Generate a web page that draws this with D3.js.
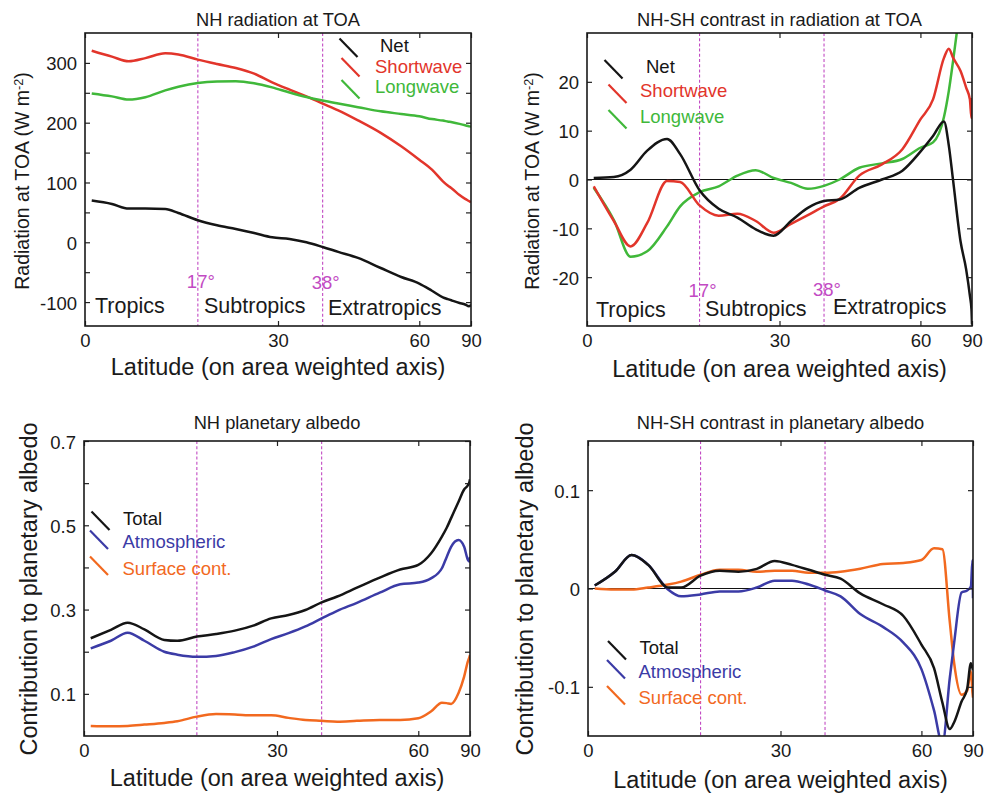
<!DOCTYPE html>
<html><head><meta charset="utf-8">
<script src="https://cdn.jsdelivr.net/npm/d3@7"></script>
<style>
body{margin:0;background:#fff}
svg{display:block}
text{font-family:"Liberation Sans",Arial,Helvetica,sans-serif}
</style>
</head><body><svg id="c" width="995" height="793"></svg>
<script>
// ---------- DATA ----------
const latA = [1,4,6.5,9,12,14,17,20,23,26,29,32,35,38,41,45,50,55,60,64,68,70,72,76,80,84,87,90];
const latB = [1,4,6.5,9,12,14,17,20,23,26,29,32,35,38,41,45,50,55,60,64,67,70,72,76,80,84,87,90];

// NH radiation at TOA (W m-2)
const nhNet = [69.7,64,56.3,56.3,55.5,49,36.8,28.4,22.3,15.6,8.4,5.6,0,-7.8,-16,-26,-43,-58,-69,-81,-92,-95,-97.5,-101.5,-104,-107,-106,-104];
const nhSW  = [320.5,310.5,302.7,308,316,314,305.5,298.2,291.5,282,267.6,255.3,244,232,220.7,204,183,160.5,138,121.5,102,95,89.7,79,72.5,69,67.5,67];
const nhLW  = [249,244,238.6,242.5,254,260,266.4,269,269.5,266,259,250.5,243,237,232,226,219,214.6,210.7,206,203.5,202,200.7,198,195.7,194,193.4,193];

// NH-SH contrast in radiation at TOA (W m-2)
const dNet = [0.3,0.5,2.0,5.9,8.3,5.2,-2.2,-6.0,-7.8,-10.2,-11.5,-8.5,-5.8,-4.4,-4.1,-1.7,0,1.8,5.7,8.9,11.9,7,-0.3,-12.7,-18.4,-23.8,-26.6,-29.7];
const dSW  = [-1.4,-8.5,-13.7,-8.9,-0.3,-0.5,-5.3,-7.4,-7.0,-8.5,-10.9,-9.1,-7.3,-5.5,-4.0,0.8,3.1,6.2,12.3,16.4,24.9,26.8,24.9,22.2,18.8,16.4,12.6,16.7];
const dLW  = [-1.7,-8.3,-15.8,-14.7,-9.6,-5.5,-2.6,-1.4,0.8,1.9,0.3,-0.7,-1.9,-1.3,0,2.4,3.3,4.2,6.5,7.6,12.8,18.1,24.4,36,null,null,null,null];

// NH planetary albedo
const nhTotal = [0.232,0.252,0.269,0.253,0.228,0.226,0.236,0.242,0.250,0.262,0.279,0.287,0.299,0.317,0.331,0.352,0.376,0.395,0.406,0.433,0.473,0.494,0.517,0.556,0.585,0.595,0.603,0.609];
const nhAtm   = [0.208,0.226,0.245,0.226,0.200,0.193,0.188,0.190,0.199,0.212,0.230,0.244,0.260,0.279,0.297,0.316,0.340,0.360,0.364,0.374,0.398,0.425,0.449,0.465,0.449,0.418,0.414,0.425];
const nhSurf  = [0.024,0.023,0.024,0.027,0.031,0.035,0.046,0.052,0.051,0.049,0.049,0.043,0.038,0.036,0.034,0.036,0.038,0.038,0.042,0.058,0.079,0.078,0.076,0.102,0.141,0.177,0.188,0.192];

// NH-SH contrast in planetary albedo
const dTotal = [0.003,0.017,0.034,0.024,0.001,0.001,0.013,0.018,0.017,0.020,0.028,0.024,0.019,0.014,0.010,-0.005,-0.016,-0.028,-0.057,-0.081,-0.116,-0.143,-0.136,-0.115,-0.102,-0.076,-0.081,-0.083];
const dAtm   = [0.003,0.017,0.034,0.024,-0.001,-0.008,-0.006,-0.003,-0.003,0.001,0.008,0.008,0.004,-0.002,-0.008,-0.026,-0.039,-0.055,-0.082,-0.124,-0.158,-0.091,-0.055,-0.004,-0.002,0.002,0.029,-0.010];
const dSurf  = [0.000,-0.001,-0.001,0.001,0.004,0.007,0.014,0.019,0.019,0.017,0.018,0.018,0.016,0.016,0.017,0.020,0.025,0.026,0.029,0.041,0.040,-0.034,-0.076,-0.108,-0.104,-0.084,-0.106,-0.111];

const xTickLats = [0,30,60,90];
const xTickLabels = ["0","30","60","90"];
const boundaryLats = [17,38];
const boundaryLabels = ["17\u00b0","38\u00b0"];
const regionNames = ["Tropics","Subtropics","Extratropics"];

const yTicks1 = [-100,-50,0,50,100,150,200,250,300];
const yLabels1 = ["-100","","0","","100","","200","","300"];
const yTicks2 = [-20,-10,0,10,20];
const yLabels2 = ["-20","-10","0","10","20"];
const yTicks3 = [0.1,0.2,0.3,0.4,0.5,0.6,0.7];
const yLabels3 = ["0.1","","0.3","","0.5","","0.7"];
const yTicks4 = [-0.1,0,0.1];
const yLabels4 = ["-0.1","0","0.1"];

// ---------- STYLE ----------
const C = {black:"#151515", red:"#e2352b", green:"#40b83a", blue:"#3b3ba6", orange:"#f2691f", magenta:"#c24ac3"};
const FONT = {tick:18.5, title:18.3, axis:23.5, ylab1:19.5, legend:18.5, region:21.5, deg:18.5};
const rad = Math.PI/180;
const svg = d3.select("#c");

const panels = [
  {id:"p1", box:{l:85,r:471,t:33,b:326}, ydom:[-140,350], yt:yTicks1, yl:yLabels1,
   title:"NH radiation at TOA", titleY:26, xlabY:375,
   ylab:{x:29,y:181,size:FONT.ylab1, text:"Radiation at TOA (W m", sup:"-2", tail:")"},
   lat:latA, series:[{v:nhSW,c:C.red},{v:nhLW,c:C.green},{v:nhNet,c:C.black}],
   legend:[{t:"Net",c:C.black,lx:339.5,ly:38.5,tx:380,ty:51.5},
           {t:"Shortwave",c:C.red,lx:341.5,ly:58,tx:375,ty:72.5},
           {t:"Longwave",c:C.green,lx:341.5,ly:80,tx:375,ty:92.5}],
   regions:{y:[313,313,315], x:[95,204,328], degY:[288,289]}},
  {id:"p2", box:{l:587,r:972,t:33,b:326}, ydom:[-30,30], yt:yTicks2, yl:yLabels2, zero:true,
   title:"NH-SH contrast in radiation at TOA", titleY:26, xlabY:377,
   ylab:{x:539,y:181,size:FONT.ylab1, text:"Radiation at TOA (W m", sup:"-2", tail:")"},
   lat:latA, series:[{v:dLW,c:C.green},{v:dSW,c:C.red},{v:dNet,c:C.black}],
   legend:[{t:"Net",c:C.black,lx:604.5,ly:60,tx:646,ty:72.5},
           {t:"Shortwave",c:C.red,lx:608.5,ly:84.5,tx:640,ty:97},
           {t:"Longwave",c:C.green,lx:608.5,ly:110,tx:640,ty:123}],
   regions:{y:[316.5,316,314], x:[596,705,833], degY:[296.5,296]}},
  {id:"p3", box:{l:84,r:470,t:441,b:736}, ydom:[0,0.7], yt:yTicks3, yl:yLabels3,
   title:"NH planetary albedo", titleY:429, xlabY:786,
   ylab:{x:37,y:589,size:FONT.axis, text:"Contribution to planetary albedo"},
   lat:latA, series:[{v:nhSurf,c:C.orange},{v:nhAtm,c:C.blue},{v:nhTotal,c:C.black}],
   legend:[{t:"Total",c:C.black,lx:91.5,ly:511.5,tx:123,ty:525},
           {t:"Atmospheric",c:C.blue,lx:90,ly:530.5,tx:122.5,ty:547.5},
           {t:"Surface cont.",c:C.orange,lx:90,ly:556.5,tx:122.5,ty:575}]},
  {id:"p4", box:{l:588,r:973,t:441,b:736}, ydom:[-0.15,0.15], yt:yTicks4, yl:yLabels4, zero:true,
   title:"NH-SH contrast in planetary albedo", titleY:429, xlabY:788,
   ylab:{x:533,y:589,size:FONT.axis, text:"Contribution to planetary albedo"},
   lat:latB, series:[{v:dSurf,c:C.orange},{v:dAtm,c:C.blue},{v:dTotal,c:C.black}],
   legend:[{t:"Total",c:C.black,lx:608,ly:641,tx:639.5,ty:654},
           {t:"Atmospheric",c:C.blue,lx:607,ly:660,tx:638.5,ty:677.5},
           {t:"Surface cont.",c:C.orange,lx:607,ly:686,tx:638.5,ty:704}]}
];

function drawPanel(p){
  const {l,r,t,b} = p.box;
  const g = svg.append("g");
  const x = d3.scaleLinear().domain([0,1]).range([l,r]);
  const xl = lat => x(Math.sin(lat*rad));
  const y = d3.scaleLinear().domain(p.ydom).range([b,t]);

  svg.append("defs").append("clipPath").attr("id","clip-"+p.id)
    .append("rect").attr("x",l).attr("y",t).attr("width",r-l).attr("height",b-t);
  const plot = g.append("g").attr("clip-path","url(#clip-"+p.id+")");

  if(p.zero){
    plot.append("line").attr("x1",l).attr("x2",r).attr("y1",y(0)).attr("y2",y(0))
      .attr("stroke","#111").attr("stroke-width",1);
  }
  boundaryLats.forEach(bl=>{
    plot.append("line").attr("x1",xl(bl)).attr("x2",xl(bl)).attr("y1",t).attr("y2",b)
      .attr("stroke",C.magenta).attr("stroke-width",1.1).attr("stroke-dasharray","3,2.2");
  });

  const line = d3.line()
    .defined(d=>d[1]!=null)
    .x(d=>xl(d[0])).y(d=>y(d[1]))
    .curve(d3.curveMonotoneX);
  p.series.forEach(s=>{
    const pts = p.lat.map((la,i)=>[la,s.v[i]]);
    plot.append("path").attr("d",line(pts)).attr("fill","none")
      .attr("stroke",s.c).attr("stroke-width",2.5).attr("stroke-linejoin","round");
  });

  // axes
  const xs = d3.scaleLinear().domain([0,1]).range([l,r]);
  const xTickVals = xTickLats.map(la=>Math.sin(la*rad));
  const fmtX = d => xTickLabels[xTickVals.indexOf(d)];
  const styleAxis = sel => {
    sel.select(".domain").remove();
    sel.selectAll(".tick line").attr("stroke","#222").attr("stroke-width",1.2);
    sel.selectAll(".tick text").attr("fill","#1a1a1a").attr("font-size",FONT.tick)
      .attr("font-family",'"Liberation Sans",Arial,Helvetica,sans-serif');
  };
  g.append("g").attr("transform",`translate(0,${b})`)
    .call(d3.axisBottom(xs).tickValues(xTickVals).tickSize(-5).tickPadding(8).tickFormat(fmtX))
    .call(styleAxis);
  g.append("g").attr("transform",`translate(0,${t})`)
    .call(d3.axisTop(xs).tickValues(xTickVals).tickSize(-5).tickFormat(()=>""))
    .call(styleAxis);
  g.append("g").attr("transform",`translate(${l},0)`)
    .call(d3.axisLeft(y).tickValues(p.yt).tickSize(-5).tickPadding(8).tickFormat((d,i)=>p.yl[i]))
    .call(styleAxis)
    .selectAll(".tick text").attr("dy","0.38em");
  g.append("g").attr("transform",`translate(${r},0)`)
    .call(d3.axisRight(y).tickValues(p.yt).tickSize(-5).tickFormat(()=>""))
    .call(styleAxis);

  // frame
  g.append("rect").attr("x",l).attr("y",t).attr("width",r-l).attr("height",b-t)
    .attr("fill","none").attr("stroke","#1a1a1a").attr("stroke-width",1.6);

  // title & labels
  g.append("text").attr("x",(l+r)/2).attr("y",p.titleY).attr("text-anchor","middle")
    .attr("font-size",FONT.title).attr("fill","#1a1a1a").text(p.title);
  g.append("text").attr("x",(l+r)/2).attr("y",p.xlabY).attr("text-anchor","middle")
    .attr("font-size",FONT.axis).attr("fill","#1a1a1a").text("Latitude (on area weighted axis)");
  const yl = g.append("text").attr("transform",`translate(${p.ylab.x},${p.ylab.y}) rotate(-90)`)
    .attr("text-anchor","middle").attr("font-size",p.ylab.size).attr("fill","#1a1a1a");
  yl.append("tspan").text(p.ylab.text);
  if(p.ylab.sup){
    yl.append("tspan").attr("dy","-0.45em").attr("font-size",p.ylab.size*0.65).text(p.ylab.sup);
    yl.append("tspan").attr("dy","0.29em").text(p.ylab.tail);
  }

  // legend
  p.legend.forEach(it=>{
    g.append("line").attr("x1",it.lx).attr("y1",it.ly).attr("x2",it.lx+18).attr("y2",it.ly+18.5)
      .attr("stroke",it.c).attr("stroke-width",2.2);
    g.append("text").attr("x",it.tx).attr("y",it.ty).attr("font-size",FONT.legend)
      .attr("fill",it.c).text(it.t);
  });

  // regions
  if(p.regions){
    regionNames.forEach((nm,i)=>{
      g.append("text").attr("x",p.regions.x[i]).attr("y",p.regions.y[i])
        .attr("font-size",FONT.region).attr("fill","#1a1a1a").text(nm);
    });
    boundaryLats.forEach((bl,i)=>{
      g.append("text").attr("x",xl(bl)-11).attr("y",p.regions.degY[i])
        .attr("font-size",FONT.deg).attr("fill",C.magenta).text(boundaryLabels[i]);
    });
  }
}
panels.forEach(drawPanel);
</script>
</body></html>
